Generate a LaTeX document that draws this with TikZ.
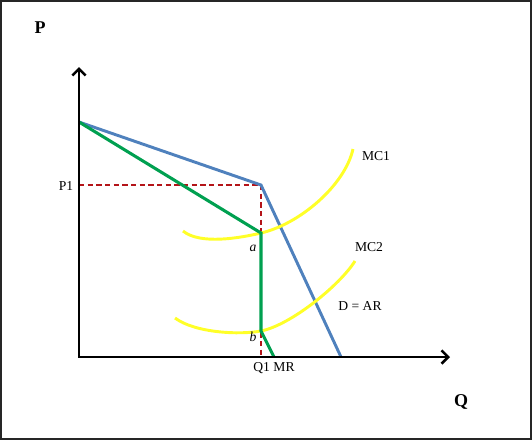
\documentclass[tikz,border=0pt]{standalone}
\usepackage{fontspec}
\setmainfont{Liberation Serif}
\usetikzlibrary{arrows.meta}
\definecolor{dblue}{RGB}{79,129,189}
\definecolor{mrgreen}{RGB}{0,160,80}
\definecolor{mcyellow}{RGB}{255,255,40}
\definecolor{guidered}{RGB}{180,20,25}
\begin{document}
\begin{tikzpicture}[x=0.75pt,y=-0.75pt,
    axis/.style={line width=1.9pt,{Straight Barb[length=5pt,width=10pt]}-{Straight Barb[length=5pt,width=10pt]}},
    demand/.style={line width=2.2pt,draw=dblue},
    mrline/.style={line width=2.3pt,draw=mrgreen},
    mccurve/.style={line width=2.2pt,draw=mcyellow},
    guide/.style={line width=1.4pt,draw=guidered,dash pattern=on 4pt off 2.5pt},
    lbl/.style={font=\fontsize{10.2}{12}\selectfont,inner sep=0pt},
    axlbl/.style={font=\fontsize{13.5}{16}\selectfont\bfseries,inner sep=0pt}]

    \useasboundingbox (0,0) rectangle (532,440);
    \draw[line width=1.2pt,draw=black!85] (0.8,0.8) rectangle (531.2,439.2);

    \coordinate (O) at (79,357);
    \coordinate (ytop) at (79,67);
    \coordinate (xend) at (450,357);
    \coordinate (top) at (79,122);
    \coordinate (kink) at (261,185);
    \coordinate (a) at (261,233);
    \coordinate (b) at (261,331);
    \coordinate (mrend) at (274,357);
    \coordinate (dend) at (341,357);
    \coordinate (p1) at (79,185);
    \coordinate (q1) at (261,357);

    \draw[guide] (p1) -- (kink) -- (q1);
    \draw[demand] (top) -- (kink) -- (dend);
    \draw[mccurve] (183,231) .. controls (200,245) and (240,238) .. (a)
        .. controls (300,224) and (345,185) .. (353,149);
    \draw[mccurve] (175,318) .. controls (195,333) and (240,335) .. (b)
        .. controls (291,325) and (340,285) .. (355,261);
    \draw[mrline] (top) -- (a) -- (b) -- (mrend);
    \draw[axis] (ytop) -- (O) -- (xend);

    \node[axlbl] (plbl) at (40,28) {P};
    \node[axlbl] (qlbl) at (461,402) {Q};
    \node[lbl] (p1lbl) at (66,186) {P1};
    \node[lbl] (mc1) at (376,156) {MC1};
    \node[lbl] (mc2) at (369,247) {MC2};
    \node[lbl] (ar) at (360,306) {D = AR};
    \node[lbl] (q1mr) at (274,368) {Q1 MR};
    \node[lbl] (alb) at (253,248) {\textit{a}};
    \node[lbl] (blb) at (253,337) {\textit{b}};

\end{tikzpicture}
\end{document}
